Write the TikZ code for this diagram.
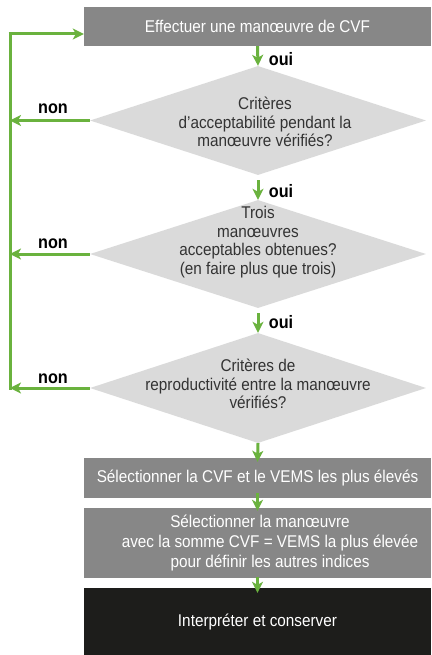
\documentclass[tikz,border=0pt]{standalone}
\usepackage{fontspec}
\setmainfont{Liberation Sans}[FakeStretch=0.9]
\usetikzlibrary{shapes.geometric,arrows.meta}
\definecolor{flowgreen}{HTML}{6AB23E}
\definecolor{boxgray}{HTML}{878787}
\definecolor{decgray}{HTML}{DADADA}
\definecolor{darkbox}{HTML}{1D1D1B}
\definecolor{dectext}{HTML}{333333}
\tikzset{
  stepbox/.style={rectangle, fill=boxgray, text=white, minimum width=347pt, inner sep=0pt, align=center,
    font=\fontsize{17}{20}\selectfont},
  finalbox/.style={stepbox, fill=darkbox},
  decision/.style={diamond, fill=decgray, inner sep=0pt, minimum width=336pt},
  dectxt/.style={text=dectext, align=center, inner sep=0pt, font=\fontsize{17}{18.5}\selectfont},
  answer/.style={font=\fontsize{18}{18}\selectfont\bfseries, text=black, inner sep=0pt},
  flow/.style={draw=flowgreen, line width=3pt, -{Stealth[length=11pt,width=11pt,inset=3pt]}},
  loopline/.style={draw=flowgreen, line width=3pt},
}
\begin{document}
\begin{tikzpicture}[x=1pt,y=-1pt]
\useasboundingbox (0,0) rectangle (431,655);

% process boxes
\node[stepbox, minimum height=39pt] (b1) at (257.5,26.5) {Effectuer une manœuvre de CVF};
\node[stepbox, minimum height=40pt] (b2) at (257.5,478) {Sélectionner la CVF et le VEMS les plus élevés};
\node[stepbox, minimum height=70pt] (b3) at (257.5,543)
  {\hspace*{5pt}Sélectionner la manœuvre\\ \hspace*{25pt}avec la somme CVF = VEMS la plus élevée\\ \hspace*{25pt}pour définir les autres indices};
\node[finalbox, minimum height=67pt] (b4) at (257.5,621.5) {Interpréter et conserver};

% decisions
\node[decision, minimum height=109pt] (d1) at (258,120.5) {};
\node[decision, minimum height=108pt] (d2) at (258,254) {};
\node[decision, minimum height=110pt] (d3) at (258,388) {};
\node[dectxt] (t1) at (265,122) {Critères\\d’acceptabilité pendant la\\manœuvre vérifiés?};
\node[dectxt] (t2) at (258,242) {Trois\\manœuvres\\acceptables obtenues?\\(en faire plus que trois)};
\node[dectxt] (t3) at (258,384) {Critères de\\reproductivité entre la manœuvre\\vérifiés?};

% main path
\draw[flow] (b1.south) -- (d1.north);
\draw[flow, shorten <=5pt] (d1.south) -- (d2.north);
\draw[flow, shorten <=5pt] (d2.south) -- (d3.north);
\draw[flow] (d3.south) -- ([yshift=-4pt]b2.north);
\draw[flow] ([yshift=5pt]b2.south) -- ([yshift=-3pt]b3.north);
\draw[flow] ([yshift=1pt]b3.south) -- ([yshift=-5pt]b4.north);

% "oui" labels
\node[answer] (o1) at (281,59) {oui};
\node[answer] (o2) at (281,191) {oui};
\node[answer] (o3) at (281,322) {oui};

% return loop
\coordinate (T) at (10,34);
\draw[loopline] ([yshift=-1.5pt]d3.west -| T) -- (T);
\draw[flow, shorten <=-1.5pt] (T) -- (T -| b1.west);
\draw[flow] (d1.west) -- (d1.west -| T);
\draw[flow] (d2.west) -- (d2.west -| T);
\draw[flow] (d3.west) -- (d3.west -| T);

% "non" labels
\node[answer] (n1) at (53,109) {non};
\node[answer] (n2) at (53,244) {non};
\node[answer] (n3) at (53,379) {non};
\end{tikzpicture}
\end{document}
